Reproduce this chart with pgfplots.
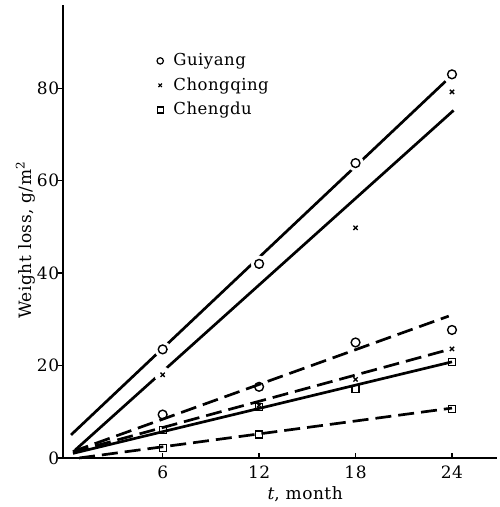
\documentclass[border=0pt]{standalone}
\usepackage{fontspec}
\setmainfont{DejaVu Serif}[LetterSpace=3]
\usepackage{pgfplots}
\pgfplotsset{compat=1.18}
\begin{document}
\fontsize{17}{20}\selectfont
\begin{tikzpicture}
\useasboundingbox (-63pt,-49pt) rectangle (436pt,458pt);
\begin{axis}[
  at={(0,0)}, anchor=south west,
  scale only axis, width=434pt, height=453pt,
  xmin=-0.2, xmax=26.8, ymin=0, ymax=98,
  axis x line=bottom, axis y line=left,
  axis line style={-, line width=1.6pt},
  xtick={6,12,18,24}, ytick={0,20,40,60,80},
  tick align=inside, major tick length=5pt,
  tick style={line width=1.3pt, black},
  ytick style={xshift=-5pt},
  /pgf/number format/assume math mode=true,
  tick label style={font=\fontsize{17}{20}\selectfont},
  xticklabel style={yshift=-2pt},
  yticklabel style={xshift=2pt},
  xlabel={\textit{t}, month},
  ylabel={Weight loss, g/m\textsuperscript{2}},
  xlabel style={at={(rel axis cs:0.558,-0.0927)}, anchor=base},
  ylabel style={at={(rel axis cs:-0.0737,0.481)}, anchor=base},
  label style={font=\fontsize{17}{20}\selectfont},
  clip=false,
  legend style={at={(axis cs:5.45,88.2)}, anchor=north west, draw=none, fill=none,
    font=\fontsize{16.5}{20}\selectfont, row sep=7.5pt,
    nodes={inner sep=1pt},
    /tikz/every odd column/.style={column sep=9pt}},
  legend cell align=left,
]
% legend
\addlegendimage{only marks, mark=o, mark size=3.2pt, line width=1.2pt, black}
\addlegendentry{Guiyang}
\addlegendimage{only marks, mark=x, mark size=2.4pt, line width=1.2pt, black}
\addlegendentry{Chongqing}
\addlegendimage{only marks, mark=square, mark size=3pt, line width=1.2pt, black}
\addlegendentry{Chengdu}

% fitted lines
\addplot[black, line width=2.7pt, forget plot] coordinates {(0.3,5) (23.6,81.5)};
\addplot[black, line width=2.7pt, forget plot] coordinates {(0.55,1.7) (24.1,75.2)};
\addplot[black, line width=2.7pt, dash pattern=on 16pt off 7pt, forget plot] coordinates {(0.42,1.4) (23.8,30.7)};
\addplot[black, line width=2.7pt, dash pattern=on 16pt off 7pt, forget plot] coordinates {(0.42,1.3) (23.75,23.4)};
\addplot[black, line width=2.7pt, forget plot] coordinates {(0.42,1.0) (24,20.8)};
\addplot[black, line width=2.7pt, dash pattern=on 16pt off 7pt, forget plot] coordinates {(0.8,0) (24,10.8)};

% white halos around markers on solid lines
\addplot[only marks, mark=*, mark size=8pt, white, forget plot] coordinates {(6,23.5) (12,42) (18,63.8) (6,18)};

% Guiyang
\addplot[only marks, mark=o, mark size=4.4pt, line width=1.4pt, black, forget plot]
  coordinates {(6,23.5) (12,42) (18,63.8) (24,83) (6,9.4) (12,15.4) (18,25) (24,27.7)};
% Chongqing
\addplot[only marks, mark=x, mark size=3pt, line width=1.3pt, black, forget plot]
  coordinates {(6,18) (18,49.8) (24,79.2) (12,11.4) (18,17) (24,23.6)};
% Chengdu
\addplot[only marks, mark=square, mark size=3.5pt, line width=1.3pt, black, forget plot]
  coordinates {(6,6.1) (12,11) (18,15) (24,20.8) (6,2.2) (12,5.1) (24,10.6)};
\end{axis}
\end{tikzpicture}
\end{document}
